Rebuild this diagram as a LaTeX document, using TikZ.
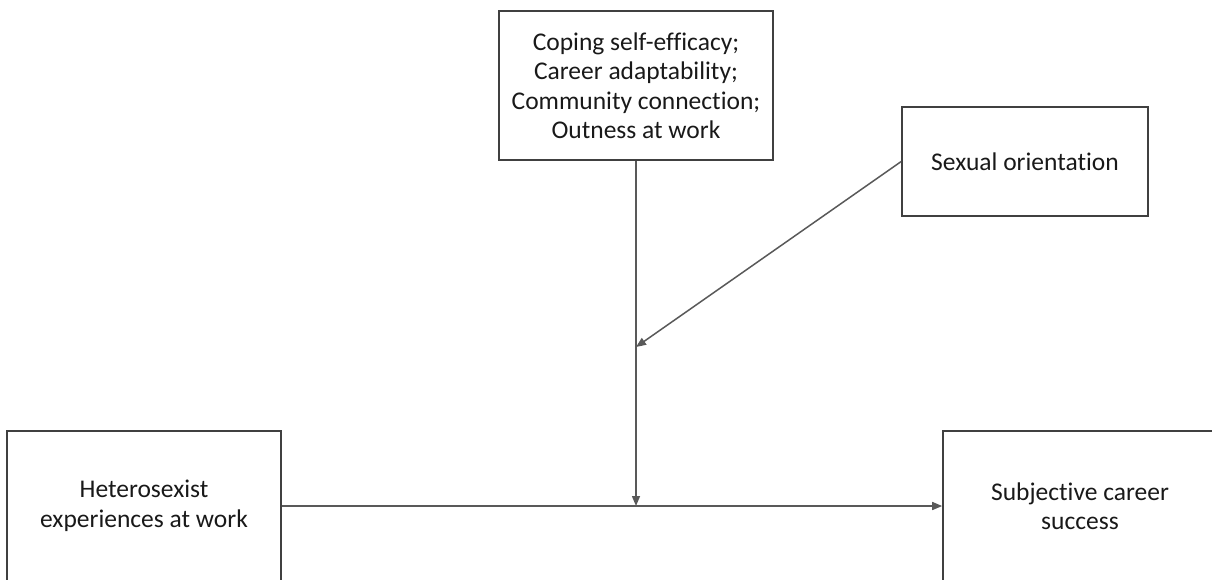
\documentclass[tikz,border=0pt]{standalone}
\usepackage{fontspec}
\setmainfont[Ligatures=NoCommon]{Carlito}
\usepackage{tikz}
\usetikzlibrary{arrows.meta,positioning,calc}
\tikzset{
  varbox/.style={rectangle,draw=black!75,line width=1.6pt,align=center,
    text=black!90,font=\fontsize{25.5}{29.5}\selectfont},
  modnode/.style={varbox,minimum width=274pt,minimum height=149pt},
  grpnode/.style={varbox,minimum width=246pt,minimum height=109pt},
  ivnode/.style={varbox,minimum width=274pt,minimum height=150pt},
  dvnode/.style={varbox,minimum width=274pt,minimum height=150pt},
  arr/.style={-{Triangle[length=10pt,width=8pt]},line width=1.5pt,color=black!65}
}

\begin{document}
\begin{tikzpicture}[x=1pt,y=-1pt]
  \clip (0,0) rectangle (1212,579);

  \node[modnode] (med) at (636,85.5) {Coping self-efficacy;\\Career adaptability;\\Community connection;\\Outness at work};
  \node[grpnode] (sexor) at (1025,161.5) {Sexual orientation};
  \node[ivnode] (hetero) at (144,506) {Heterosexist\\experiences at work};
  \node[dvnode] (success) at (1080,506) {Subjective career\\success};

  \coordinate (meet) at (med.south |- hetero.east);
  \coordinate (modpt) at (med.south |- 0,347);

  \draw[arr] (hetero.east)--(success.west);
  \draw[arr] (med.south)--(meet);
  \draw[arr] (sexor.west)--(modpt);
\end{tikzpicture}
\end{document}
